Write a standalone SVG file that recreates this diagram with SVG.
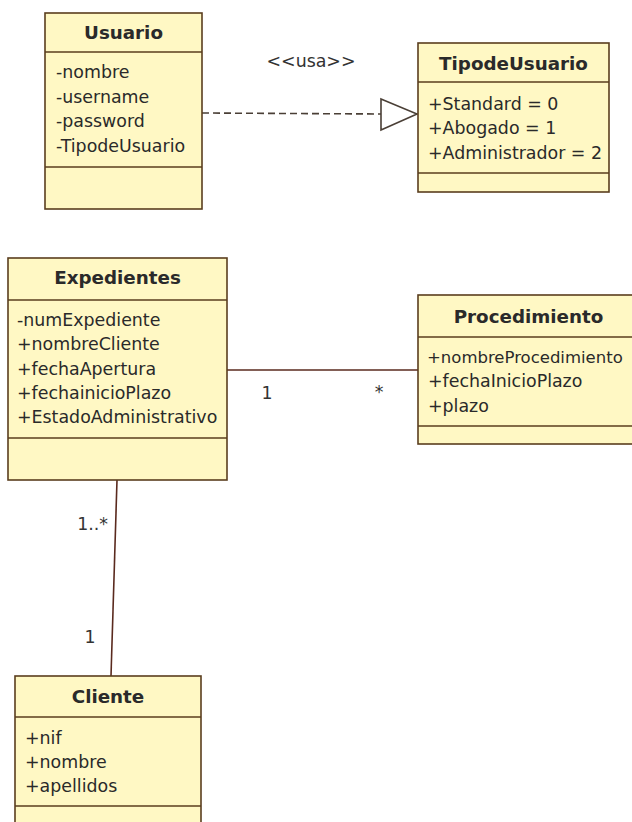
<svg xmlns="http://www.w3.org/2000/svg" width="632" height="822" viewBox="0 0 632 822">
<style>
.box{fill:#FFF8C4;stroke:#5A3E1E;stroke-width:1.6}
.sep{stroke:#5A3E1E;stroke-width:1.6}
.title{font-family:"DejaVu Sans",sans-serif;font-size:18.3px;font-weight:bold;fill:#2a2a2a;text-anchor:middle}
.attr{font-family:"DejaVu Sans",sans-serif;font-size:17.4px;fill:#2a2a2a}
.lbl{font-family:"DejaVu Sans",sans-serif;font-size:17.4px;fill:#333}
.assoc{stroke:#5A2A1E;stroke-width:1.6;fill:none}
.dep{stroke:#4a3f36;stroke-width:1.6;stroke-dasharray:7 4;fill:none}
</style>
<rect width="632" height="822" fill="#ffffff"/>
<g id="connectors">
<line class="dep" x1="202" y1="113" x2="381" y2="114"/>
<polygon points="381,99 417,114 381,130" fill="#ffffff" stroke="#4a3f36" stroke-width="1.6"/>
<text class="lbl" x="311" y="67" text-anchor="middle">&lt;&lt;usa&gt;&gt;</text>
<line class="assoc" x1="227" y1="370" x2="418" y2="370"/>
<text class="lbl" x="267" y="399" text-anchor="middle">1</text>
<text class="lbl" x="379" y="398" text-anchor="middle">*</text>
<line class="assoc" x1="117" y1="480" x2="111" y2="676"/>
<text class="lbl" x="108" y="530" text-anchor="end">1..*</text>
<text class="lbl" x="90" y="643" text-anchor="middle">1</text>
</g>
<g id="Usuario">
<rect class="box" x="45" y="13" width="157" height="196"/>
<line class="sep" x1="45" y1="52" x2="202" y2="52"/>
<line class="sep" x1="45" y1="167" x2="202" y2="167"/>
<text class="title" x="123.5" y="39">Usuario</text>
<text class="attr" x="56" y="78">-nombre</text>
<text class="attr" x="56" y="103">-username</text>
<text class="attr" x="56" y="127">-password</text>
<text class="attr" x="56" y="152">-TipodeUsuario</text>
</g>
<g id="TipodeUsuario">
<rect class="box" x="418" y="43" width="191" height="149"/>
<line class="sep" x1="418" y1="82" x2="609" y2="82"/>
<line class="sep" x1="418" y1="173" x2="609" y2="173"/>
<text class="title" x="513.5" y="70">TipodeUsuario</text>
<text class="attr" x="428" y="110">+Standard = 0</text>
<text class="attr" x="428" y="134">+Abogado = 1</text>
<text class="attr" x="428" y="159">+Administrador = 2</text>
</g>
<g id="Expedientes">
<rect class="box" x="8" y="258" width="219" height="222"/>
<line class="sep" x1="8" y1="300" x2="227" y2="300"/>
<line class="sep" x1="8" y1="438" x2="227" y2="438"/>
<text class="title" x="117.5" y="284">Expedientes</text>
<text class="attr" x="17" y="326">-numExpediente</text>
<text class="attr" x="17" y="350">+nombreCliente</text>
<text class="attr" x="17" y="375">+fechaApertura</text>
<text class="attr" x="17" y="399">+fechainicioPlazo</text>
<text class="attr" x="17" y="423">+EstadoAdministrativo</text>
</g>
<g id="Procedimiento">
<rect class="box" x="418" y="295" width="221" height="149"/>
<line class="sep" x1="418" y1="337" x2="639" y2="337"/>
<line class="sep" x1="418" y1="426" x2="639" y2="426"/>
<text class="title" x="528.5" y="323">Procedimiento</text>
<text class="attr" x="427" y="363" style="font-size:16.5px">+nombreProcedimiento</text>
<text class="attr" x="428" y="387">+fechaInicioPlazo</text>
<text class="attr" x="428" y="412">+plazo</text>
</g>
<g id="Cliente">
<rect class="box" x="15" y="676" width="186" height="160"/>
<line class="sep" x1="15" y1="717" x2="201" y2="717"/>
<line class="sep" x1="15" y1="806" x2="201" y2="806"/>
<text class="title" x="108" y="703">Cliente</text>
<text class="attr" x="25" y="744">+nif</text>
<text class="attr" x="25" y="768">+nombre</text>
<text class="attr" x="25" y="792">+apellidos</text>
</g>
</svg>
